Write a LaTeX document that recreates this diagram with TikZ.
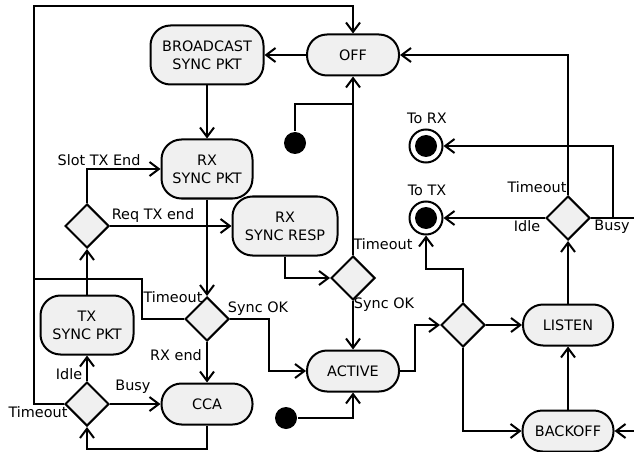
\documentclass[tikz,border=0pt]{standalone}
\usepackage{fontspec}
\setmainfont{DejaVu Sans}
\usetikzlibrary{shapes.geometric,arrows.meta}
\begin{document}
\begin{tikzpicture}[x=0.75pt,y=-0.75pt,
  font=\fontsize{10.8}{13.5}\selectfont,
  every path/.style={line width=1.5pt},
  state/.style={rectangle,rounded corners=15pt,draw,fill=gray!12,line width=1.5pt,inner sep=0pt,align=center,minimum height=44.25pt},
  short/.style={minimum height=30.75pt},
  dec/.style={diamond,draw,fill=gray!12,line width=1.5pt,inner sep=0pt,minimum width=33pt,minimum height=33pt},
  init/.style={circle,fill=black,inner sep=0pt,minimum size=16.5pt},
  final/.style={circle,draw,line width=1.5pt,inner sep=0pt,minimum size=24.75pt,
     path picture={\fill[black] (path picture bounding box.center) circle (8.25pt);}},
  lbl/.style={inner sep=0pt},
  arr/.style={-{Straight Barb[length=7pt,width=10.5pt,line width=1.5pt]}}]
\useasboundingbox (0,0) rectangle (634,452);
% states
\node[state,minimum width=84.75pt] (bc) at (207,55) {BROADCAST\\SYNC PKT};
\node[state,short,minimum width=69pt] (off) at (353,55) {OFF};
\node[state,minimum width=68.25pt] (rxs) at (207,169) {RX\\SYNC PKT};
\node[state,minimum width=78.75pt] (rxr) at (285,226) {RX\\SYNC RESP};
\node[state,minimum width=69.75pt] (txs) at (87,325) {TX\\SYNC PKT};
\node[state,short,minimum width=68.25pt] (cca) at (207,404) {CCA};
\node[state,short,minimum width=69pt] (active) at (353,371) {ACTIVE};
\node[state,short,minimum width=67.5pt] (listen) at (568,325) {LISTEN};
\node[state,short,minimum width=68.25pt] (backoff) at (568,431) {BACKOFF};
% decisions
\node[dec] (dleft) at (87,226) {};
\node[dec] (dsync) at (207,319) {};
\node[dec] (dbot) at (87,404) {};
\node[dec] (dresp) at (353,278) {};
\node[dec] (dright) at (463,325) {};
\node[dec] (dtop) at (568,218) {};
% initial / final
\node[init] (i1) at (295,143) {};
\node[init] (i2) at (286,418) {};
\node[final] (torx) at (426,146) {};
\node[final] (totx) at (426,218) {};
\coordinate (j1) at (353,104);
\coordinate (eR) at (634,218);
\coordinate (eB) at (634,431);
% connectors
\draw[arr] (off) -- (bc);
\draw[arr] (bc) -- (rxs);
\draw (i1.north) |- (j1);
\draw[arr] (dresp.north) -- (off.south);
\draw[arr] (rxs) -- (dsync);
\draw[arr] (dsync) -- (cca);
\draw[arr] (dsync.east) -- (269,319) |- (active.west);
\draw[arr] (dsync.west) -| (142,279) -| (34,6) -| (off.north);
\draw (dbot.west) -| (34,279);
\draw[arr] (dbot) -- (txs);
\draw[arr] (dbot) -- (cca);
\draw[arr] (cca.south) -- (207,449) -| (dbot.south);
\draw[arr] (txs) -- (dleft);
\draw[arr] (dleft.north) |- (rxs.west);
\draw[arr] (dleft.east) -- (rxr.west);
\draw[arr] (rxr.south) |- (dresp.west);
\draw[arr] (dresp) -- (active);
\draw[arr] (i2) -| (active.south);
\draw[arr] (active.east) -- (415,371) |- (dright.west);
\draw[arr] (dright) -- (listen);
\draw[arr] (dright.south) |- (backoff.west);
\draw[arr] (dright.north) -- (463,269) -| (totx.south);
\draw[arr] (backoff) -- (listen);
\draw[arr] (listen) -- (dtop);
\draw[arr] (dtop.north) |- (off.east);
\draw[arr] (dtop) -- (totx);
\draw (dtop.east) -- (eR);
\draw[arr] (613,218) |- (torx.east);
\draw[arr] (eB) -- (backoff);
% labels
\node[lbl] at (99,160) {Slot TX End};
\node[lbl] at (153,216) {Req TX end};
\node[lbl] at (173,297) {Timeout};
\node[lbl] at (258,309) {Sync OK};
\node[lbl] at (176,355) {RX end};
\node[lbl] at (69,374) {Idle};
\node[lbl] at (133,387) {Busy};
\node[lbl] at (38,412) {Timeout};
\node[lbl] at (383,244) {Timeout};
\node[lbl] at (384,305) {Sync OK};
\node[lbl] at (427,118) {To RX};
\node[lbl] at (427,190) {To TX};
\node[lbl] at (537,187) {Timeout};
\node[lbl] at (527,226) {Idle};
\node[lbl] at (612,227) {Busy};
\end{tikzpicture}
\end{document}
